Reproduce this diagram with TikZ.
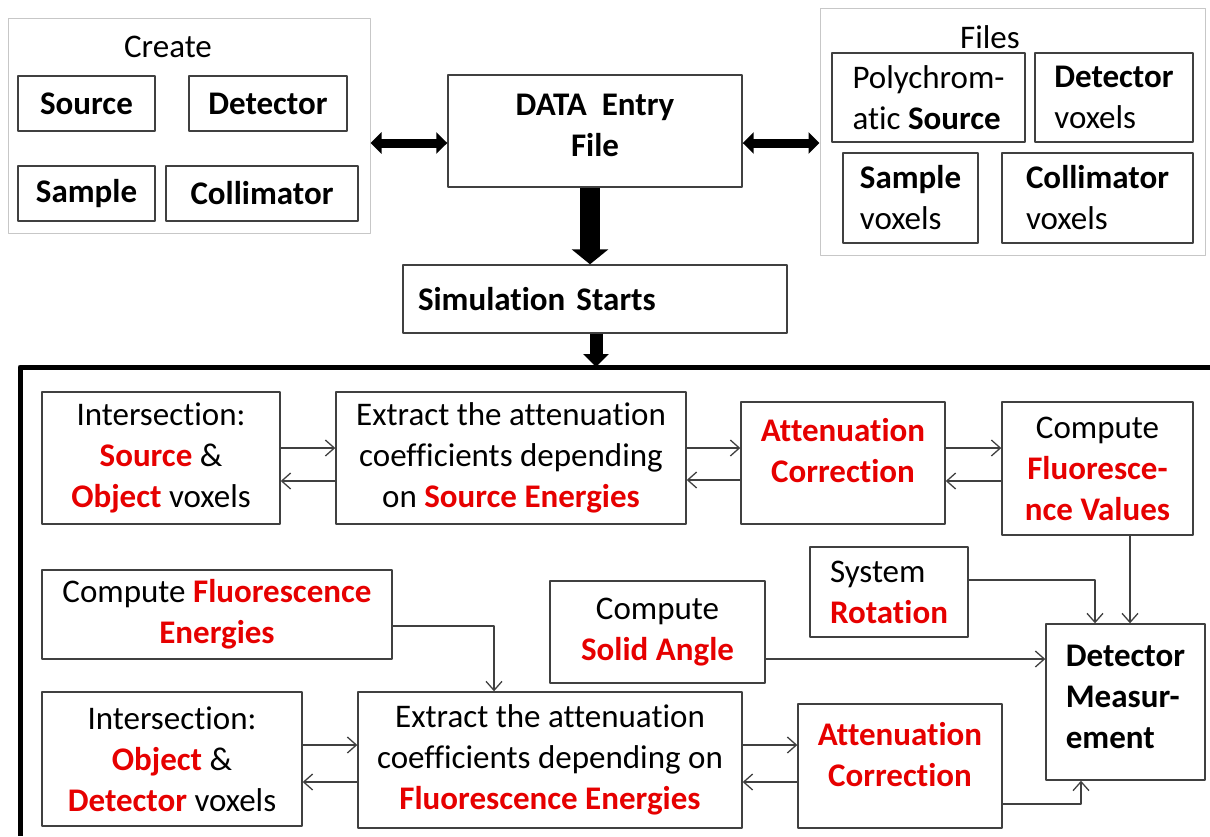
\documentclass[tikz,border=0pt]{standalone}
\usepackage{fontspec}
\setmainfont{Carlito}[Ligatures=NoCommon]
\usetikzlibrary{arrows.meta, positioning, calc}

\definecolor{hlred}{RGB}{230,0,0}
\newcommand{\hl}[1]{\textbf{\color{hlred}#1}}
\newcommand{\fs}{\fontsize{33}{41}\selectfont}
\newcommand{\dropb}[1]{\rule[-#1]{0pt}{#1}}

\begin{document}
\begin{tikzpicture}[x=1pt, y=-1pt, line cap=round, line join=round,
    grp/.style={draw=black!22, line width=1pt},
    box/.style={draw=black!75, line width=1.4pt, inner sep=0pt, align=center, font=\fs},
    lbox/.style={box, align=left},
    lbl/.style={font=\fs},
    arr/.style={draw=black!75, line width=1.3pt, -{Straight Barb[length=9pt, width=16pt]}},
    fat/.style={line cap=butt, line width=13pt, -{Triangle[length=13pt, width=25pt]}},
    fatboth/.style={line cap=butt, line width=9pt, {Triangle[length=11pt, width=21pt]}-{Triangle[length=11pt, width=21pt]}}]
  \useasboundingbox (0,0) rectangle (1210,836);
  % ================= input groups =================
  \node[grp, minimum width=362, minimum height=215] (create) at (189,125.5) {};
  \node[lbl] (createlbl) at (168,47) {Create};
  \node[box, minimum width=137, minimum height=55] (src) at (86.5,103.5) {\textbf{Source}};
  \node[box, minimum width=158, minimum height=55] (det) at (268,103.5) {\textbf{Detector}};
  \node[box, minimum width=137, minimum height=55] (smp) at (86.5,193.5) {\textbf{Sample}};
  \node[box, minimum width=192, minimum height=55] (col) at (262,193.5) {\textbf{Collimator}};
  \node[grp, minimum width=385, minimum height=247] (files) at (1012.5,131.5) {};
  \node[lbl] (fileslbl) at (990,37) {Files};
  \node[lbox, minimum width=193, minimum height=89] (poly) at (928.5,97.5) {Polychrom-\\atic \textbf{Source}};
  \node[lbox, minimum width=158, minimum height=89] (detv) at (1114,97.5) {\textbf{Detector}\\voxels};
  \node[lbox, minimum width=135, minimum height=90] (smpv) at (910.5,198) {\textbf{Sample}\\voxels};
  \node[lbox, minimum width=191, minimum height=90] (colv) at (1097.5,198) {\textbf{Collimator}\\voxels};
  % ================= data entry =================
  \node[box, minimum width=294, minimum height=112] (data) at (595,131) {\textbf{DATA\ \ Entry}\\\textbf{File}\dropb{12pt}};
  \node[box, text width=354, inner xsep=15pt, align=left, minimum height=68] (sim) at (595,299) {\textbf{Simulation Starts}};
  \draw[fatboth] (create.east |- 0,143) -- (data.west |- 0,143);
  \draw[fatboth] (data.east |- 0,143) -- (files.west |- 0,143);
  \draw[fat, line width=20pt, -{Triangle[length=15pt, width=36pt]}] (data.south -| 590,0) -- (sim.north -| 590,0);
  % ================= simulation frame =================
  \coordinate (frametop) at (596,367);
  \draw[line width=5pt, line cap=butt] (1210,367) -- (20,367) -- (20,836);
  \draw[fat] (sim.south -| frametop) -- (frametop);
  % source path
  \node[box, minimum width=238, minimum height=132] (I1) at (161,458) {Intersection:\\\hl{Source} \&\\\hl{Object} voxels};
  \node[box, minimum width=350, minimum height=132] (E1) at (511,458) {Extract the attenuation\\coefficients depending\\on \hl{Source Energies}};
  \node[box, minimum width=204, minimum height=122] (A1) at (843,463) {\hl{Attenuation}\\\hl{Correction}\dropb{26pt}};
  \node[box, minimum width=191, minimum height=133] (C1) at (1097.5,468.5) {Compute\\\hl{Fluoresce-}\\\hl{nce Values}};
  \draw[arr] (I1.east |- 0,448) -- (E1.west |- 0,448);
  \draw[arr] (E1.west |- 0,481) -- (I1.east |- 0,481);
  \draw[arr] (E1.east |- 0,448) -- (A1.west |- 0,448);
  \draw[arr] (A1.west |- 0,480) -- (E1.east |- 0,480);
  \draw[arr] (A1.east |- 0,448) -- (C1.west |- 0,448);
  \draw[arr] (C1.west |- 0,481) -- (A1.east |- 0,481);
  % middle row
  \node[lbox, minimum width=158, minimum height=90] (S) at (889,592) {System\\\hl{Rotation}};
  \node[box, minimum width=350, minimum height=89] (CF) at (217,614.5) {Compute \hl{Fluorescence}\\\hl{Energies}};
  \node[box, minimum width=215, minimum height=102] (SA) at (657.5,632) {Compute\\\hl{Solid Angle}};
  \node[lbox, minimum width=159, minimum height=156] (DM) at (1125.5,702) {\textbf{Detector}\\\textbf{Measur-}\\\textbf{ement}\dropb{10pt}};
  % detector path
  \node[box, minimum width=260, minimum height=134] (I2) at (172,759) {Intersection:\\\hl{Object} \&\\\hl{Detector} voxels};
  \node[box, minimum width=384, minimum height=136] (E2) at (550,760) {Extract the attenuation\\coefficients depending on\\\hl{Fluorescence Energies}};
  \node[box, minimum width=204, minimum height=124] (A2) at (900,766) {\hl{Attenuation}\\\hl{Correction}\dropb{24pt}};
  \draw[arr] (I2.east |- 0,745) -- (E2.west |- 0,745);
  \draw[arr] (E2.west |- 0,782) -- (I2.east |- 0,782);
  \draw[arr] (E2.east |- 0,745) -- (A2.west |- 0,745);
  \draw[arr] (A2.west |- 0,782) -- (E2.east |- 0,782);
  % into the detector measurement
  \draw[arr] (C1.south -| 1130,0) -- (DM.north -| 1130,0);
  \draw[arr] (S.east |- 0,580) -| (DM.north -| 1095,0);
  \draw[arr] (SA.east |- 0,659) -- (DM.west |- 0,659);
  \draw[arr] (CF.east |- 0,626) -| (E2.north -| 494,0);
  \draw[arr] (A2.east |- 0,804) -| (DM.south -| 1081,0);
\end{tikzpicture}
\end{document}
